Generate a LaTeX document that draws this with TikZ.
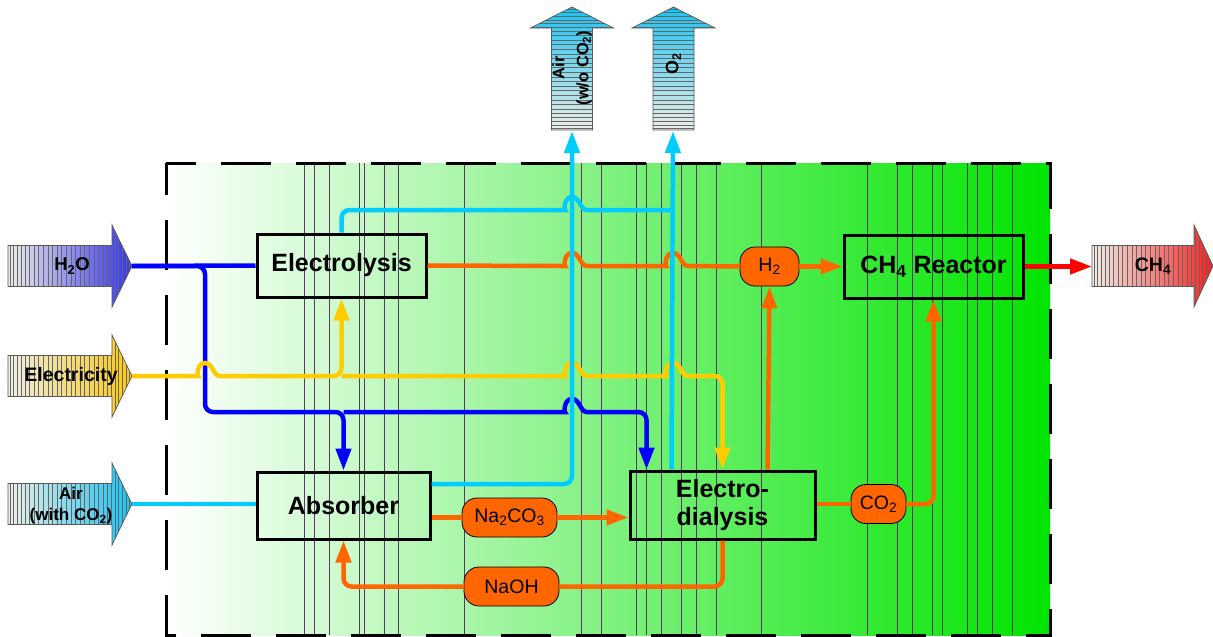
\documentclass[tikz,border=0pt]{standalone}
\usepackage{fontspec}
\setmainfont{Liberation Sans}
\usetikzlibrary{arrows.meta,calc}
\definecolor{cBlue}{RGB}{0,0,255}
\definecolor{cYel}{RGB}{255,204,0}
\definecolor{cLb}{RGB}{0,204,255}
\definecolor{cOr}{RGB}{255,102,0}
\definecolor{cRed}{RGB}{255,0,0}
\definecolor{gMid}{RGB}{140,250,140}
\definecolor{gRight}{RGB}{0,228,0}
\definecolor{aPale}{RGB}{238,238,230}
\definecolor{aBlue}{RGB}{50,50,245}
\definecolor{aYel}{RGB}{250,200,20}
\definecolor{aLb}{RGB}{20,195,245}
\definecolor{aRed}{RGB}{250,30,30}
\definecolor{vline}{RGB}{85,60,95}
\newcommand\hop[2]{-- ({#1-15},#2) [sharp corners] .. controls ({#1-8},#2) and ({#1-8},{#2-13}) .. (#1,{#2-13}) .. controls ({#1+8},{#2-13}) and ({#1+8},#2) .. ({#1+15},#2) [rounded corners=8pt]}
\newcommand\stripelist{2,5,9,13,17,21,26,30,35,40,44,49,53,58,63,67,72,76,81,86,90,95,99,103,107,110,114,118,121}
% #1 tail x, #2 centre y, #3 head base x, #4 tip x, #5 colour
\newcommand\harrow[5]{%
  \def\hpath{(#1,{#2-20.5}) -- (#3,{#2-20.5}) -- (#3,{#2-41}) -- (#4,#2) -- (#3,{#2+41}) -- (#3,{#2+20.5}) -- (#1,{#2+20.5}) -- cycle}%
  \shade[left color=aPale, right color=#5] \hpath;
  \begin{scope}\clip \hpath;
    \foreach \d in \stripelist {\draw[stripe] ({#1+\d},{#2-41}) -- ({#1+\d},{#2+41});}
  \end{scope}
  \draw[bigarr] \hpath;}
% #1 centre x, #2 tip y (head base 28, bottom 130)
\newcommand\varrow[2]{%
  \def\vpath{({#1-20.5},130) -- ({#1-20.5},28) -- ({#1-41.5},28) -- (#1,#2) -- ({#1+41.5},28) -- ({#1+20.5},28) -- ({#1+20.5},130) -- cycle}%
  \shade[bottom color=aPale, top color=aLb] \vpath;
  \begin{scope}\clip \vpath;
    \foreach \d in \stripelist {\draw[stripe] ({#1-42},{130-\d}) -- ({#1+42},{130-\d});}
  \end{scope}
  \draw[bigarr] \vpath;}
\tikzset{
  box/.style={draw, line width=3pt, font=\bfseries\fontsize{25}{28}\selectfont, inner sep=0pt, align=center},
  pill/.style={draw=black, line width=0.8pt, fill=cOr, rounded corners=15pt, minimum height=39pt, font=\fontsize{19.5}{22}\selectfont, inner sep=0pt},
  flow/.style={line width=4.5pt, rounded corners=8pt},
  arrtxt/.style={font=\bfseries\fontsize{18.5}{21}\selectfont, align=center, inner sep=0pt},
  bigarr/.style={draw=black!65, line width=0.7pt},
  stripe/.style={draw=black!60, line width=0.5pt},
  gline/.style={draw=vline, line width=0.6pt}
}
\begin{document}
\begin{tikzpicture}[x=1pt,y=-1pt, >={Triangle[length=22pt,width=15pt]}]
\useasboundingbox (0,0) rectangle (1213,637);
% background region
\shade[left color=white, middle color=gMid, right color=gRight] (166,163) rectangle (1050,635);
\foreach \x in {304,314,329,359,364,384,398,464,581,601,636,646,661,681,696,716,761,867,897,912,932,942,967,977,992,1012}
  {\draw[gline] (\x,163) -- (\x,635);}
\draw[line width=3pt, dash pattern=on 50pt off 25pt, dash phase=20pt] (166,163) -- (1050,163) -- (1050,635) -- (166,635) -- cycle;

% big input/output arrows
\harrow{8}{266}{112}{132}{aBlue}
\harrow{8}{376}{112}{132}{aYel}
\harrow{8}{504}{112}{132}{aLb}
\harrow{1092}{266}{1194}{1213}{aRed}
\varrow{572}{7}
\varrow{673.5}{7}

\node[arrtxt] (h2o) at (72,266) {H\textsubscript{2}O};
\node[arrtxt, font=\bfseries\fontsize{19.5}{21}\selectfont] (elec) at (71,376) {Electricity};
\node[arrtxt, font=\bfseries\fontsize{17}{21}\selectfont] (air) at (71,506) {Air\\(with CO\textsubscript{2})};
\node[arrtxt, font=\bfseries\fontsize{19.5}{21}\selectfont] (ch4out) at (1153,266) {CH\textsubscript{4}};
\node[arrtxt, rotate=90, font=\bfseries\fontsize{16.5}{24}\selectfont] (airout) at (572,68) {Air\\(w/o CO\textsubscript{2})};
\node[arrtxt, rotate=90, font=\bfseries\fontsize{18}{21}\selectfont] (o2) at (673.5,64) {O\textsubscript{2}};

\coordinate (h2otip) at (132,266);
\coordinate (electip) at (132,376);
\coordinate (airtip) at (132,504);
\coordinate (ch4tail) at (1092,266.5);
\coordinate (airbase) at (572,131);
\coordinate (o2base) at (673,131);

% process boxes
\node[box, minimum width=169pt, minimum height=63pt] (ely) at (341.5,265.5) {Electrolysis};
\node[box, minimum width=173pt, minimum height=67pt] (abs) at (343.5,505.5) {Absorber};
\node[box, minimum width=185pt, minimum height=68pt] (ed) at (722.5,505) {Electro-\\dialysis};
\node[box, minimum width=179pt, minimum height=63pt] (ch4) at (933.5,266.5) {CH\textsubscript{4} Reactor};

% intermediate products
\node[pill, minimum width=59pt] (h2) at (769.5,266.5) {H\textsubscript{2}};
\node[pill, minimum width=55pt] (co2) at (878.5,504) {CO\textsubscript{2}};
\node[pill, minimum width=95pt] (na) at (509.5,517.5) {Na\textsubscript{2}CO\textsubscript{3}};
\node[pill, minimum width=95pt] (naoh) at (511.5,586.5) {NaOH};

\coordinate (edB) at ([xshift=18pt]ed.north west);
\coordinate (edL) at ([xshift=43pt]ed.north west);
\coordinate (edO) at ([xshift=139pt]ed.north west);

% water
\draw[flow, cBlue] (h2otip) -- (ely.west);
\draw[flow, cBlue, ->] (h2otip) -- (205,266) -- (205,412) -- (abs.north |- 0,412) -- (abs.north);
\draw[flow, cBlue, ->] (abs.north |- 0,412) \hop{572}{412} -- (edB |- 0,412) -- (edB);

% electricity
\draw[flow, cYel, ->] (electip) \hop{205}{376} -- (ely.south |- 0,376) -- (ely.south);
\draw[flow, cYel, ->] (ely.south |- 0,376) \hop{572}{376} \hop{673}{376} -- (ed.north |- 0,376) -- (ed.north);

% air in
\draw[flow, cLb] (airtip) -- (abs.west |- airtip);

% orange flows
\draw[flow, cOr] (ely.east) \hop{572}{266} \hop{673}{266} -- (h2.west);
\draw[flow, cOr, ->] (h2.east) -- (ch4.west);
\draw[flow, cOr, ->] (edO) -- (h2.south);
\draw[flow, cOr] (ed.east |- co2.west) -- (co2.west);
\draw[flow, cOr, ->] (co2.east) -- (ch4.south |- co2.east) -- (ch4.south);
\draw[flow, cOr] (abs.east |- na.west) -- (na.west);
\draw[flow, cOr, ->] (na.east) -- (ed.west |- na.east);
\draw[flow, cOr] (ed.south) -- (ed.south |- naoh.east) -- (naoh.east);
\draw[flow, cOr, ->] (naoh.west) -- (abs.south |- naoh.west) -- (abs.south);

% methane out
\draw[flow, cRed, ->] (ch4.east) -- (ch4tail);

% air / oxygen out
\draw[flow, cLb] (ely.north) -- (ely.north |- 0,210) \hop{572}{210} -- (edL |- 0,210);
\draw[flow, cLb, ->] ([yshift=21.5pt]abs.east) -- (572,484) -- (airbase);
\draw[flow, cLb, ->] (edL) -- (o2base);
\end{tikzpicture}
\end{document}
